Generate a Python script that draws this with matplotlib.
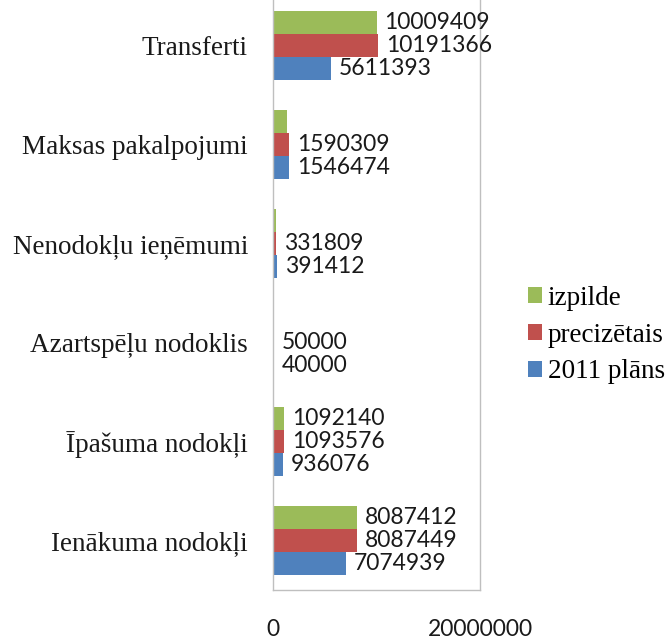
import matplotlib
matplotlib.use("Agg")
import matplotlib.pyplot as plt
import matplotlib.transforms as mtransforms
import numpy as np

categories = ["Ienākuma nodokļi", "Īpašuma nodokļi", "Azartspēļu nodoklis",
              "Nenodokļu ieņēmumi", "Maksas pakalpojumi", "Transferti"]
plans_2011 = [7074939, 936076, 40000, 391412, 1546474, 5611393]
precizetais = [8087449, 1093576, 50000, 331809, 1590309, 10191366]
izpilde = [8087412, 1092140, 0, 290000, 1350000, 10009409]
izpilde_labels = ["8087412", "1092140", None, None, None, "10009409"]
series_names = ["2011 plāns", "precizētais", "izpilde"]
colors = ["#4F81BD", "#C0504D", "#9BBB59"]
xticks = [0, 20000000]
xticklabels = ["0", "20000000"]

W, H = 672, 639
fig = plt.figure(figsize=(W / 100, H / 100), dpi=100)
left_px, right_px, bottom_px, top_px = 273, 480, 590, -4.5
ax = fig.add_axes([left_px / W, 1 - bottom_px / H,
                   (right_px - left_px) / W, (bottom_px - top_px) / H])

y = np.arange(len(categories))
bh = 0.232
offsets = [-bh, 0, bh]
all_vals = [plans_2011, precizetais, izpilde]
all_labels = [[str(v) for v in plans_2011], [str(v) for v in precizetais], izpilde_labels]

num_font = dict(family="Lato", size=16.5, color="#1a1a1a")
offset_tr = mtransforms.offset_copy(ax.transData, fig=fig, x=8, y=0, units="dots")
for vals, labs, off, c, name in zip(all_vals, all_labels, offsets, colors, series_names):
    ax.barh(y + off, vals, height=bh, color=c, label=name, zorder=2)
    for yi, v, lab in zip(y, vals, labs):
        if lab is not None:
            ax.text(v, yi + off, lab, transform=offset_tr, ha="left", va="center",
                    **num_font)

ax.set_xlim(0, 20000000)
ax.set_ylim(-0.5, 5.5)
ax.set_yticks(y)
ax.set_yticklabels(categories, family="Liberation Serif", size=19.5, color="#1a1a1a")
ax.set_xticks(xticks)
ax.set_xticklabels(xticklabels, family="Lato", size=16.5, color="#1a1a1a")
ax.tick_params(axis="both", length=0)
ax.tick_params(axis="y", pad=18)
ax.tick_params(axis="x", pad=21)
for s in ax.spines.values():
    s.set_color("#BFBFBF")
    s.set_linewidth(1.0)

handles, labels = ax.get_legend_handles_labels()
leg = fig.legend(handles[::-1], labels[::-1], loc="center left",
                 bbox_to_anchor=(528 / W, 1 - 335 / H), frameon=False,
                 prop=dict(family="Liberation Serif", size=19.5),
                 handlelength=0.5, handleheight=0.5, handletextpad=0.22,
                 labelspacing=0.44, borderaxespad=0, borderpad=0)

fig.savefig("out.png", dpi=100)
